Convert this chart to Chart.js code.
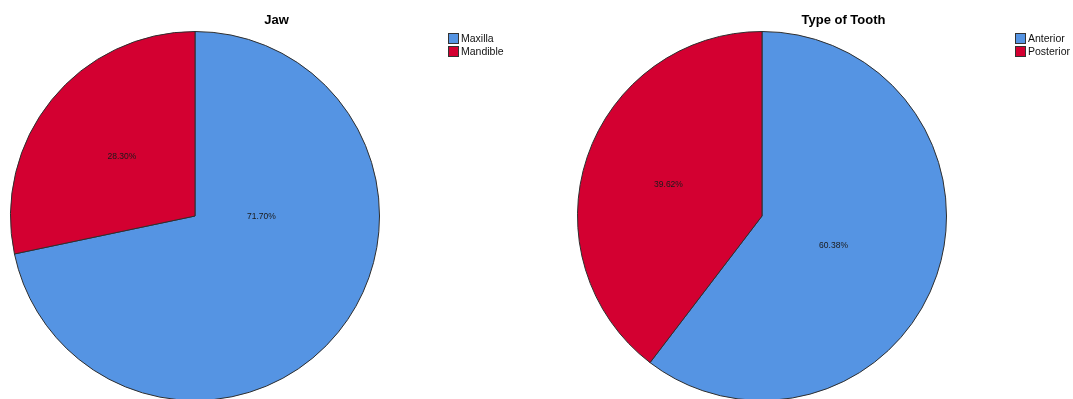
<!DOCTYPE html>
<html>
<head>
<meta charset="utf-8">
<script src="https://cdn.jsdelivr.net/npm/chart.js@4.4.1/dist/chart.umd.min.js"></script>
<style>
  body { margin: 0; background: #fff; }
  #wrap { position: relative; width: 1073px; height: 399px; overflow: hidden; }
  canvas { position: absolute; top: 0; }
</style>
</head>
<body>
<div id="wrap">
  <canvas id="jaw" width="567" height="440" style="left:0"></canvas>
  <canvas id="tooth" width="567" height="440" style="left:567px"></canvas>
</div>
<script>
// Datos de las graficas
const jawLabels = ['Maxilla', 'Mandible'];
const jawValues = [71.70, 28.30];
const toothLabels = ['Anterior', 'Posterior'];
const toothValues = [60.38, 39.62];

const colores = ['#5594e3', '#d30031'];

// titulo, leyenda y porcentajes dibujados a mano
const textosPie = {
  id: 'textosPie',
  afterDatasetsDraw(chart, args, opts) {
    const ctx = chart.ctx;
    ctx.save();
    // titulo
    ctx.fillStyle = '#000';
    ctx.font = 'bold 13px "Liberation Sans", Arial, sans-serif';
    ctx.textAlign = 'center';
    ctx.textBaseline = 'middle';
    ctx.fillText(opts.titulo, opts.tituloX, 20);

    // porcentajes
    const meta = chart.getDatasetMeta(0);
    ctx.font = '8.5px "Liberation Sans", Arial, sans-serif';
    ctx.fillStyle = '#1a1a1a';
    meta.data.forEach((arc, i) => {
      const v = chart.data.datasets[0].data[i];
      const lugar = opts.lugares[i];
      const ang = lugar.ang != null ? lugar.ang : (arc.startAngle + arc.endAngle) / 2;
      const d = arc.outerRadius * lugar.dist;
      ctx.fillText(v.toFixed(2) + '%', arc.x + Math.cos(ang) * d, arc.y + Math.sin(ang) * d);
    });

    // leyenda
    ctx.textAlign = 'left';
    ctx.font = '10.5px "Liberation Sans", Arial, sans-serif';
    chart.data.labels.forEach((lab, i) => {
      const y = 33 + i * 13;
      ctx.fillStyle = colores[i];
      ctx.fillRect(opts.leyendaX, y, 10, 10);
      ctx.strokeStyle = '#333';
      ctx.lineWidth = 1;
      ctx.strokeRect(opts.leyendaX + 0.5, y + 0.5, 10, 10);
      ctx.fillStyle = '#111';
      ctx.fillText(lab, opts.leyendaX + 13, y + 6);
    });
    ctx.restore();
  }
};

function pastel(id, etiquetas, valores, titulo, lugares) {
  return new Chart(document.getElementById(id).getContext('2d'), {
    type: 'pie',
    data: {
      labels: etiquetas,
      datasets: [{
        data: valores,
        backgroundColor: colores,
        borderColor: '#2e2e2e',
        borderWidth: 1
      }]
    },
    options: {
      responsive: false,
      animation: false,
      devicePixelRatio: 1,
      layout: { padding: { left: 10, right: 187, top: 31, bottom: 39 } },
      plugins: {
        legend: { display: false },
        tooltip: { enabled: false },
        textosPie: { titulo: titulo, tituloX: 276.5, leyendaX: 448, lugares: lugares }
      }
    },
    plugins: [textosPie]
  });
}

let jawT = pastel('jaw', jawLabels, jawValues, 'Jaw',
  [{ ang: 0.01, dist: 0.36 }, { dist: 0.51 }]);
let toothT = pastel('tooth', toothLabels, toothValues, 'Type of Tooth',
  [{ ang: 0.395, dist: 0.42 }, { dist: 0.535 }]);
</script>
</body>
</html>
